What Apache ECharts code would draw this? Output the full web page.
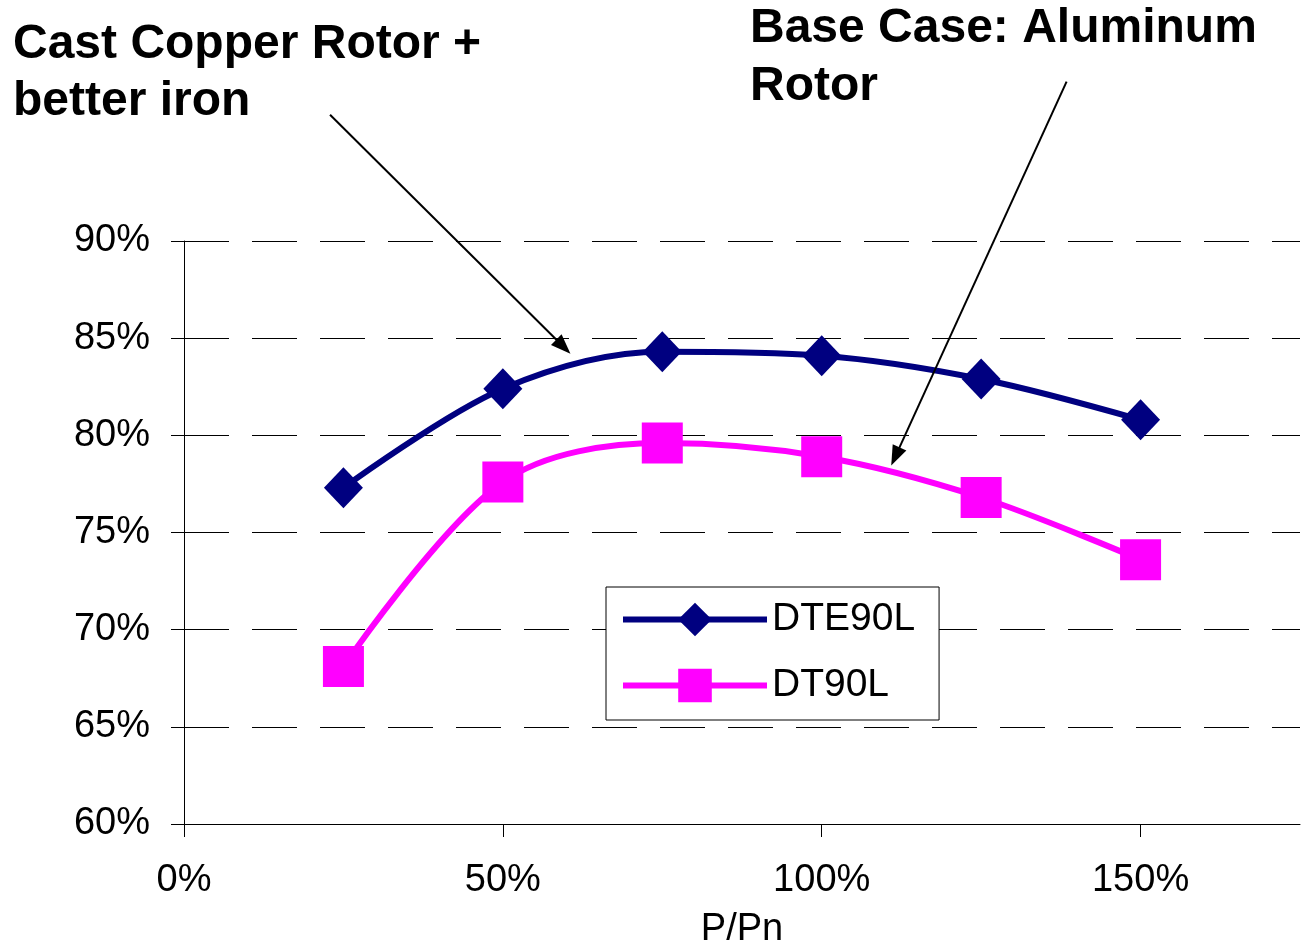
<!DOCTYPE html>
<html><head><meta charset="utf-8">
<script src="https://cdn.jsdelivr.net/npm/echarts@6/dist/echarts.min.js"></script>
<style>html,body{margin:0;padding:0;background:#fff}#c{width:1303px;height:947px}</style>
</head><body><div id="c"></div>
<script>
// ---- data ----
const loadLevels = [25, 50, 75, 100, 125, 150];           // P/Pn (%)
const dte90l = [77.3, 82.4, 84.3, 84.1, 82.9, 80.8];       // efficiency (%)
const dt90l  = [68.1, 77.6, 79.6, 78.9, 76.8, 73.6];       // efficiency (%)
const seriesNames = ['DTE90L', 'DT90L'];
const xTickValues = [0, 50, 100, 150];
const annotationCopper = ['Cast Copper Rotor +', 'better iron'];
const annotationBase = ['Base Case: Aluminum', 'Rotor'];
// arrow endpoints in data space [P/Pn %, efficiency %]
const arrowCopper = [[22.9, 96.5], [60.6, 84.2]];
const arrowBase = [[138.4, 98.2], [110.9, 78.45]];

const FONT = '"Liberation Sans", Arial, Helvetica, sans-serif';
const chart = echarts.init(document.getElementById('c'), null, {renderer: 'canvas'});

chart.setOption({
  animation: false,
  backgroundColor: '#fff',
  grid: {left: 184, right: 3, top: 241, bottom: 123, containLabel: false, outerBoundsMode: 'none'},
  xAxis: {
    type: 'value', min: 0, max: 175, interval: 50,
    name: 'P/Pn', nameLocation: 'middle', nameGap: 87,
    nameTextStyle: {fontSize: 38, fontFamily: FONT, color: '#000'},
    axisLine: {show: true, onZero: false, lineStyle: {color: '#000', width: 1}},
    axisTick: {show: true, inside: false, length: 13, lineStyle: {color: '#000', width: 1}, customValues: xTickValues},
    axisLabel: {fontSize: 38, fontFamily: FONT, color: '#000', margin: 38, formatter: v => v + '%', customValues: xTickValues},
    splitLine: {show: false}
  },
  yAxis: {
    type: 'value', min: 60, max: 90, interval: 5,
    axisLine: {show: true, lineStyle: {color: '#000', width: 1}},
    axisTick: {show: true, inside: false, length: 13, lineStyle: {color: '#000', width: 1}},
    axisLabel: {fontSize: 38, fontFamily: FONT, color: '#000', margin: 34, formatter: v => v + '%'},
    splitLine: {show: true, lineStyle: {color: '#000', width: 1, type: [45, 23]}}
  },
  legend: {
    data: seriesNames,
    orient: 'vertical', left: 606, top: 587,
    backgroundColor: '#fff', borderColor: '#000', borderWidth: 1,
    padding: [13, 24, 15, 14],
    itemWidth: 144, itemHeight: 42, itemGap: 27,
    lineStyle: {width: 6},
    textStyle: {fontSize: 39, fontFamily: FONT, color: '#000'}
  },
  series: [
    {
      name: seriesNames[0], type: 'line',
      data: loadLevels.map((x, i) => [x, dte90l[i]]),
      smooth: 0.33, symbol: 'diamond', symbolSize: [39, 41], showAllSymbol: true,
      lineStyle: {color: '#000080', width: 6},
      itemStyle: {color: '#000080'}
    },
    {
      name: seriesNames[1], type: 'line',
      data: loadLevels.map((x, i) => [x, dt90l[i]]),
      smooth: 0.33, symbol: 'rect', symbolSize: 41, showAllSymbol: true,
      lineStyle: {color: '#FF00FF', width: 6},
      itemStyle: {color: '#FF00FF'}
    }
  ]
});

function arrowGraphics(pair) {
  const a = chart.convertToPixel({gridIndex: 0}, pair[0]);
  const b = chart.convertToPixel({gridIndex: 0}, pair[1]);
  const dx = b[0] - a[0], dy = b[1] - a[1];
  const len = Math.sqrt(dx * dx + dy * dy);
  const ux = dx / len, uy = dy / len;
  const L = 20, W = 7.5;
  const bx = b[0] - ux * L, by = b[1] - uy * L;
  const nx = -uy, ny = ux;
  return [
    {type: 'line', shape: {x1: a[0], y1: a[1], x2: bx + ux * 2, y2: by + uy * 2},
     style: {stroke: '#000', lineWidth: 2}, z: 50},
    {type: 'polygon', shape: {points: [[b[0], b[1]], [bx + nx * W, by + ny * W], [bx - nx * W, by - ny * W]]},
     style: {fill: '#000'}, z: 50}
  ];
}

function textLine(t, x, y) {
  return {type: 'text', x: x, y: y, z: 50,
    style: {text: t, font: 'bold 48px ' + FONT, fill: '#000', align: 'left', verticalAlign: 'middle'}};
}

chart.setOption({
  graphic: [
    textLine(annotationCopper[0], 13, 45),
    textLine(annotationCopper[1], 13, 102),
    textLine(annotationBase[0], 750, 29),
    textLine(annotationBase[1], 750, 87),
    ...arrowGraphics(arrowCopper),
    ...arrowGraphics(arrowBase)
  ]
});
</script>
</body></html>
